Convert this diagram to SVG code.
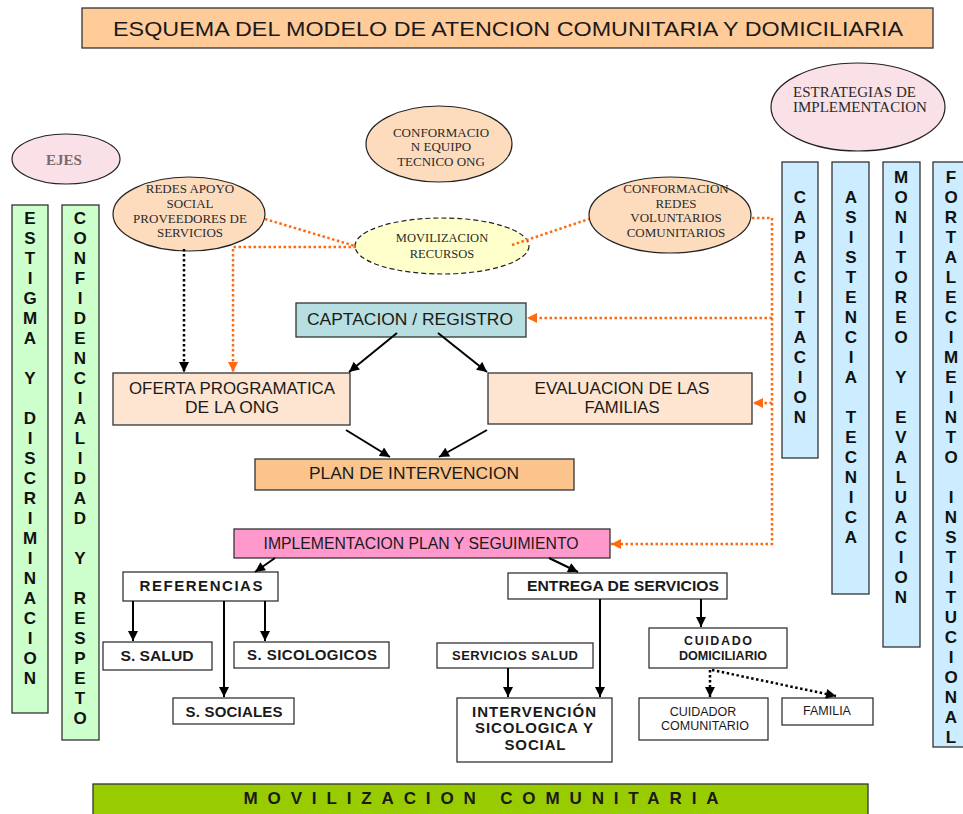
<svg xmlns="http://www.w3.org/2000/svg" width="963" height="814" viewBox="0 0 963 814">
<style>
.box{stroke:#333;stroke-width:1.3}
.el{stroke:#222;stroke-width:1.2}
.peach{fill:#FDDCBE}
.pink{fill:#F9E1E7}
.green{fill:#CCFFCC}
.blue{fill:#CCECFF}
.white{fill:#fff}
.ser{font-family:"Liberation Serif","Times New Roman",serif;fill:#2a2a2a;text-anchor:middle}
.san{font-family:"Liberation Sans",Arial,sans-serif;fill:#1a1a1a;text-anchor:middle}
.bold{font-weight:bold}
.vt{font-family:"Liberation Sans",Arial,sans-serif;font-weight:bold;font-size:17px;fill:#111;text-anchor:middle}
.arr{stroke:#000;stroke-width:2;fill:none}
.dotk{stroke:#000;stroke-width:2.5;stroke-dasharray:2.5 2.5;fill:none}
.doto{stroke:#FF6A10;stroke-width:2.5;stroke-dasharray:2.5 2.5;fill:none}
</style>
<defs>
<marker id="ah" viewBox="0 0 10 10" refX="10" refY="5" markerWidth="11" markerHeight="10" markerUnits="userSpaceOnUse" orient="auto"><path d="M0,0 L10,5 L0,10 z" fill="#000"/></marker>
<marker id="ao" viewBox="0 0 10 10" refX="10" refY="5" markerWidth="10" markerHeight="10" markerUnits="userSpaceOnUse" orient="auto"><path d="M0,0 L10,5 L0,10 z" fill="#FF6A10"/></marker>
</defs>

<g id="title">
<rect class="box" x="82" y="8" width="851" height="40" fill="#FFCC99"/>
<text class="san" x="508" y="36" font-size="21" textLength="790" lengthAdjust="spacingAndGlyphs">ESQUEMA DEL MODELO DE ATENCION COMUNITARIA Y DOMICILIARIA</text>
</g>

<g id="ejes">
<ellipse class="el pink" cx="66" cy="159" rx="54" ry="25"/>
<text class="ser bold" x="64" y="165" font-size="15" style="fill:#7a6a6a">EJES</text>
</g>

<g id="estigma">
<rect class="box green" x="12" y="205" width="36" height="508"/>
<text class="vt"><tspan x="30" y="224">E</tspan><tspan x="30" y="244">S</tspan><tspan x="30" y="264">T</tspan><tspan x="30" y="284">I</tspan><tspan x="30" y="304">G</tspan><tspan x="30" y="324">M</tspan><tspan x="30" y="344">A</tspan><tspan x="30" y="384">Y</tspan><tspan x="30" y="424">D</tspan><tspan x="30" y="444">I</tspan><tspan x="30" y="464">S</tspan><tspan x="30" y="484">C</tspan><tspan x="30" y="504">R</tspan><tspan x="30" y="524">I</tspan><tspan x="30" y="544">M</tspan><tspan x="30" y="564">I</tspan><tspan x="30" y="584">N</tspan><tspan x="30" y="604">A</tspan><tspan x="30" y="624">C</tspan><tspan x="30" y="644">I</tspan><tspan x="30" y="664">O</tspan><tspan x="30" y="684">N</tspan></text>
</g>

<g id="confidencialidad">
<rect class="box green" x="62" y="205" width="37" height="535"/>
<text class="vt"><tspan x="80" y="224">C</tspan><tspan x="80" y="244">O</tspan><tspan x="80" y="264">N</tspan><tspan x="80" y="284">F</tspan><tspan x="80" y="304">I</tspan><tspan x="80" y="324">D</tspan><tspan x="80" y="344">E</tspan><tspan x="80" y="364">N</tspan><tspan x="80" y="384">C</tspan><tspan x="80" y="404">I</tspan><tspan x="80" y="424">A</tspan><tspan x="80" y="444">L</tspan><tspan x="80" y="464">I</tspan><tspan x="80" y="484">D</tspan><tspan x="80" y="504">A</tspan><tspan x="80" y="524">D</tspan><tspan x="80" y="564">Y</tspan><tspan x="80" y="604">R</tspan><tspan x="80" y="624">E</tspan><tspan x="80" y="644">S</tspan><tspan x="80" y="664">P</tspan><tspan x="80" y="684">E</tspan><tspan x="80" y="704">T</tspan><tspan x="80" y="724">O</tspan></text>
</g>

<g id="redes-apoyo">
<ellipse class="el peach" cx="189" cy="214" rx="76" ry="37"/>
<text class="ser" font-size="13"><tspan x="190" y="193">REDES APOYO</tspan><tspan x="190" y="208">SOCIAL</tspan><tspan x="190" y="223">PROVEEDORES DE</tspan><tspan x="190" y="237">SERVICIOS</tspan></text>
</g>

<g id="conformacion-equipo">
<ellipse class="el peach" cx="439" cy="144" rx="73" ry="38"/>
<text class="ser" font-size="13"><tspan x="441" y="137">CONFORMACIO</tspan><tspan x="441" y="151">N EQUIPO</tspan><tspan x="441" y="166">TECNICO ONG</tspan></text>
</g>

<g id="movilizacion-recursos">
<ellipse cx="442" cy="246" rx="87" ry="28" fill="#FFFFCC" stroke="#222" stroke-width="1.2" stroke-dasharray="5 3"/>
<text class="ser" font-size="12.5"><tspan x="442" y="242">MOVILIZACION</tspan><tspan x="442" y="258">RECURSOS</tspan></text>
</g>

<g id="conformacion-redes">
<ellipse class="el peach" cx="670" cy="215" rx="81" ry="38"/>
<text class="ser" font-size="13"><tspan x="676" y="193">CONFORMACION</tspan><tspan x="676" y="208">REDES</tspan><tspan x="676" y="222">VOLUNTARIOS</tspan><tspan x="676" y="237">COMUNITARIOS</tspan></text>
</g>

<g id="estrategias">
<ellipse class="el pink" cx="858" cy="107" rx="87" ry="44"/>
<text class="ser" font-size="15" style="text-anchor:start"><tspan x="793" y="97">ESTRATEGIAS DE</tspan><tspan x="793" y="112">IMPLEMENTACION</tspan></text>
</g>

<g id="capacitacion">
<rect class="box blue" x="782" y="162" width="36" height="296"/>
<text class="vt"><tspan x="800" y="203">C</tspan><tspan x="800" y="223">A</tspan><tspan x="800" y="243">P</tspan><tspan x="800" y="263">A</tspan><tspan x="800" y="283">C</tspan><tspan x="800" y="303">I</tspan><tspan x="800" y="323">T</tspan><tspan x="800" y="343">A</tspan><tspan x="800" y="363">C</tspan><tspan x="800" y="383">I</tspan><tspan x="800" y="403">O</tspan><tspan x="800" y="423">N</tspan></text>
</g>

<g id="asistencia">
<rect class="box blue" x="832" y="162" width="37" height="432"/>
<text class="vt"><tspan x="851" y="203">A</tspan><tspan x="851" y="223">S</tspan><tspan x="851" y="243">I</tspan><tspan x="851" y="263">S</tspan><tspan x="851" y="283">T</tspan><tspan x="851" y="303">E</tspan><tspan x="851" y="323">N</tspan><tspan x="851" y="343">C</tspan><tspan x="851" y="363">I</tspan><tspan x="851" y="383">A</tspan><tspan x="851" y="423">T</tspan><tspan x="851" y="443">E</tspan><tspan x="851" y="463">C</tspan><tspan x="851" y="483">N</tspan><tspan x="851" y="503">I</tspan><tspan x="851" y="523">C</tspan><tspan x="851" y="543">A</tspan></text>
</g>

<g id="monitoreo">
<rect class="box blue" x="883" y="162" width="37" height="485"/>
<text class="vt"><tspan x="901" y="183">M</tspan><tspan x="901" y="203">O</tspan><tspan x="901" y="223">N</tspan><tspan x="901" y="243">I</tspan><tspan x="901" y="263">T</tspan><tspan x="901" y="283">O</tspan><tspan x="901" y="303">R</tspan><tspan x="901" y="323">E</tspan><tspan x="901" y="343">O</tspan><tspan x="901" y="383">Y</tspan><tspan x="901" y="423">E</tspan><tspan x="901" y="443">V</tspan><tspan x="901" y="463">A</tspan><tspan x="901" y="483">L</tspan><tspan x="901" y="503">U</tspan><tspan x="901" y="523">A</tspan><tspan x="901" y="543">C</tspan><tspan x="901" y="563">I</tspan><tspan x="901" y="583">O</tspan><tspan x="901" y="603">N</tspan></text>
</g>

<g id="fortalecimiento">
<rect class="box blue" x="933" y="162" width="40" height="585"/>
<text class="vt"><tspan x="951" y="183">F</tspan><tspan x="951" y="203">O</tspan><tspan x="951" y="223">R</tspan><tspan x="951" y="243">T</tspan><tspan x="951" y="263">A</tspan><tspan x="951" y="283">L</tspan><tspan x="951" y="303">E</tspan><tspan x="951" y="323">C</tspan><tspan x="951" y="343">I</tspan><tspan x="951" y="363">M</tspan><tspan x="951" y="383">E</tspan><tspan x="951" y="403">I</tspan><tspan x="951" y="423">N</tspan><tspan x="951" y="443">T</tspan><tspan x="951" y="463">O</tspan><tspan x="951" y="503">I</tspan><tspan x="951" y="523">N</tspan><tspan x="951" y="543">S</tspan><tspan x="951" y="563">T</tspan><tspan x="951" y="583">I</tspan><tspan x="951" y="603">T</tspan><tspan x="951" y="623">U</tspan><tspan x="951" y="643">C</tspan><tspan x="951" y="663">I</tspan><tspan x="951" y="683">O</tspan><tspan x="951" y="703">N</tspan><tspan x="951" y="723">A</tspan><tspan x="951" y="743">L</tspan></text>
</g>

<g id="captacion">
<rect class="box" x="296" y="303" width="230" height="34" fill="#B7DEE0"/>
<text class="san" x="410" y="325" font-size="17" textLength="206" lengthAdjust="spacingAndGlyphs">CAPTACION / REGISTRO</text>
</g>

<g id="oferta">
<rect class="box" x="113" y="373" width="237" height="52" fill="#FDE5D2"/>
<text class="san" font-size="17"><tspan x="232" y="394" textLength="206" lengthAdjust="spacingAndGlyphs">OFERTA PROGRAMATICA</tspan><tspan x="232" y="413" textLength="94" lengthAdjust="spacingAndGlyphs">DE LA ONG</tspan></text>
</g>

<g id="evaluacion">
<rect class="box" x="488" y="373" width="264" height="51" fill="#FDE5D2"/>
<text class="san" font-size="17"><tspan x="622" y="394" textLength="175" lengthAdjust="spacingAndGlyphs">EVALUACION DE LAS</tspan><tspan x="622" y="413" textLength="75" lengthAdjust="spacingAndGlyphs">FAMILIAS</tspan></text>
</g>

<g id="plan">
<rect class="box" x="255" y="459" width="319" height="31" fill="#FAC48C"/>
<text class="san" x="414" y="479" font-size="17" textLength="210" lengthAdjust="spacingAndGlyphs">PLAN DE INTERVENCION</text>
</g>

<g id="implementacion">
<rect class="box" x="234" y="529" width="376" height="29" fill="#FF99CC"/>
<text class="san" x="421" y="549" font-size="16" textLength="315" lengthAdjust="spacingAndGlyphs">IMPLEMENTACION PLAN Y SEGUIMIENTO</text>
</g>

<g id="referencias">
<rect class="box white" x="123" y="572" width="155" height="29"/>
<text class="san bold" x="201" y="591" font-size="15" textLength="123" lengthAdjust="spacing">REFERENCIAS</text>
</g>

<g id="s-salud">
<rect class="box white" x="103" y="642" width="109" height="28"/>
<text class="san bold" x="157" y="661" font-size="15" textLength="73" lengthAdjust="spacingAndGlyphs">S.  SALUD</text>
</g>

<g id="s-sicologicos">
<rect class="box white" x="234" y="642" width="155" height="26"/>
<text class="san bold" x="312" y="660" font-size="15" textLength="130" lengthAdjust="spacing">S. SICOLOGICOS</text>
</g>

<g id="s-sociales">
<rect class="box white" x="173" y="698" width="121" height="26"/>
<text class="san bold" x="234" y="717" font-size="15" textLength="97" lengthAdjust="spacing">S. SOCIALES</text>
</g>

<g id="entrega">
<rect class="box white" x="508" y="573" width="219" height="26"/>
<text class="san bold" x="623" y="591" font-size="15" textLength="192" lengthAdjust="spacingAndGlyphs">ENTREGA DE SERVICIOS</text>
</g>

<g id="servicios-salud">
<rect class="box white" x="437" y="643" width="156" height="25"/>
<text class="san bold" x="515" y="660" font-size="13" textLength="126" lengthAdjust="spacing">SERVICIOS SALUD</text>
</g>

<g id="intervencion">
<rect class="box white" x="457" y="698" width="155" height="64"/>
<text class="san bold" font-size="15"><tspan x="534" y="717" textLength="124" lengthAdjust="spacing">INTERVENCIÓN</tspan><tspan x="534" y="733" textLength="118" lengthAdjust="spacing">SICOLOGICA Y</tspan><tspan x="535" y="750" textLength="61" lengthAdjust="spacing">SOCIAL</tspan></text>
</g>

<g id="cuidado-domiciliario">
<rect class="box white" x="649" y="628" width="138" height="40"/>
<text class="san bold" font-size="12.5"><tspan x="718" y="645" textLength="68" lengthAdjust="spacing">CUIDADO</tspan><tspan x="723" y="660" textLength="88" lengthAdjust="spacingAndGlyphs">DOMICILIARIO</tspan></text>
</g>

<g id="cuidador">
<rect class="box white" x="639" y="698" width="129" height="42"/>
<text class="san" font-size="12.5"><tspan x="703" y="716">CUIDADOR</tspan><tspan x="705" y="730">COMUNITARIO</tspan></text>
</g>

<g id="familia">
<rect class="box white" x="782" y="698" width="91" height="27"/>
<text class="san" x="827" y="715" font-size="12.5">FAMILIA</text>
</g>

<g id="movilizacion-comunitaria">
<rect class="box" x="93" y="784" width="775" height="34" fill="#99CC00"/>
<text class="san bold" x="481" y="804" font-size="17" textLength="475" lengthAdjust="spacing">MOVILIZACION COMUNITARIA</text>
</g>

<g id="connectors">
<line class="arr" x1="397" y1="333" x2="349" y2="372" marker-end="url(#ah)"/>
<line class="arr" x1="438" y1="333" x2="487" y2="372" marker-end="url(#ah)"/>
<line class="arr" x1="346" y1="430" x2="390" y2="457" marker-end="url(#ah)"/>
<line class="arr" x1="487" y1="430" x2="439" y2="457" marker-end="url(#ah)"/>
<line class="arr" x1="275" y1="558" x2="255" y2="572" marker-end="url(#ah)"/>
<line class="arr" x1="549" y1="558" x2="578" y2="572" marker-end="url(#ah)"/>
<line class="arr" x1="133" y1="601" x2="133" y2="641" marker-end="url(#ah)"/>
<line class="arr" x1="224" y1="601" x2="224" y2="697" marker-end="url(#ah)"/>
<line class="arr" x1="265" y1="601" x2="265" y2="641" marker-end="url(#ah)"/>
<line class="arr" x1="600" y1="599" x2="600" y2="697" marker-end="url(#ah)"/>
<line class="arr" x1="701" y1="599" x2="701" y2="627" marker-end="url(#ah)"/>
<line class="arr" x1="508" y1="668" x2="508" y2="697" marker-end="url(#ah)"/>
<line class="dotk" x1="710" y1="670" x2="710" y2="697" marker-end="url(#ah)"/>
<line class="dotk" x1="712" y1="670" x2="836" y2="696" marker-end="url(#ah)"/>
<line class="dotk" x1="184" y1="249" x2="184" y2="372" marker-end="url(#ah)"/>
<line class="doto" x1="265" y1="219" x2="355" y2="246"/>
<polyline class="doto" points="356,247 233,247 233,372" marker-end="url(#ao)"/>
<line class="doto" x1="512" y1="245" x2="589" y2="219"/>
<polyline class="doto" points="752,218 772,218 772,544 611,544" marker-end="url(#ao)"/>
<line class="doto" x1="772" y1="318" x2="527" y2="318" marker-end="url(#ao)"/>
<line class="doto" x1="772" y1="403" x2="753" y2="403" marker-end="url(#ao)"/>
</g>
</svg>
